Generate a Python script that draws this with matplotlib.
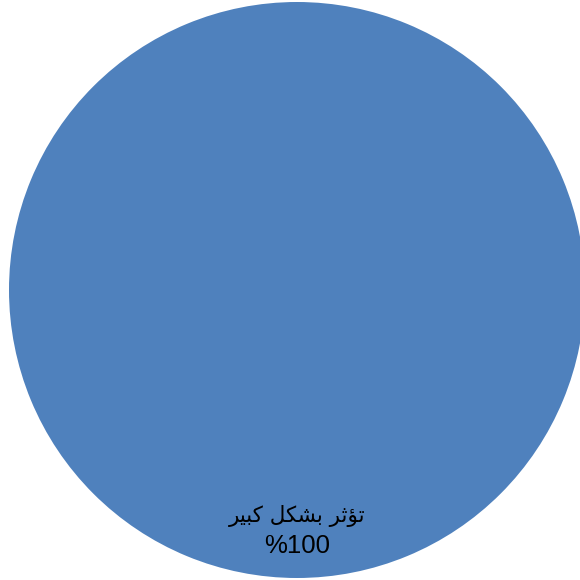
import matplotlib
matplotlib.use("Agg")
import matplotlib.pyplot as plt

categories = ["تؤثر بشكل كبير"]
values = [100]
colors = ["#4F81BD"]

# minimal Arabic shaping (presentation forms) + visual reordering
FORMS = {
    "\u062A": ("\uFE95", "\uFE96", "\uFE97", "\uFE98"),
    "\u0624": ("\uFE85", "\uFE86", None, None),
    "\u062B": ("\uFE99", "\uFE9A", "\uFE9B", "\uFE9C"),
    "\u0631": ("\uFEAD", "\uFEAE", None, None),
    "\u0628": ("\uFE8F", "\uFE90", "\uFE91", "\uFE92"),
    "\u0634": ("\uFEB5", "\uFEB6", "\uFEB7", "\uFEB8"),
    "\u0643": ("\uFED9", "\uFEDA", "\uFEDB", "\uFEDC"),
    "\u0644": ("\uFEDD", "\uFEDE", "\uFEDF", "\uFEE0"),
    "\u064A": ("\uFEF1", "\uFEF2", "\uFEF3", "\uFEF4"),
}

def dual(c):
    return c in FORMS and FORMS[c][2] is not None

def shape(text):
    out = []
    for i, c in enumerate(text):
        if c not in FORMS:
            out.append(c)
            continue
        prev = text[i - 1] if i > 0 else ""
        nxt = text[i + 1] if i + 1 < len(text) else ""
        jp = dual(prev)
        jn = dual(c) and nxt in FORMS
        iso, fin, ini, med = FORMS[c]
        if jp and jn:
            out.append(med)
        elif jp:
            out.append(fin)
        elif jn:
            out.append(ini)
        else:
            out.append(iso)
    return "".join(out)[::-1]

fig = plt.figure(figsize=(5.8, 5.8), dpi=100)
ax = fig.add_axes([0, 0, 1, 1])

labels = [shape(c) for c in categories]
wedges, texts, autotexts = ax.pie(
    values, colors=colors, radius=288, center=(297, 290),
    startangle=90, counterclock=False, labels=labels, labeldistance=0.785,
    autopct=lambda p: f"%{p:.0f}", pctdistance=0.89,
    wedgeprops=dict(linewidth=0), frame=True,
)
ax.set_xlim(0, 580)
ax.set_ylim(0, 580)
ax.set_aspect("equal")
ax.axis("off")
for t in texts:
    t.set_fontfamily(["DejaVu Sans"])
    t.set_fontsize(15.5)
    t.set_color("black")
    t.set_ha("center")
for t in autotexts:
    t.set_fontfamily(["Liberation Sans", "DejaVu Sans"])
    t.set_fontsize(18.5)
    t.set_color("black")
    t.set_ha("center")

fig.savefig("out.png", dpi=100)
